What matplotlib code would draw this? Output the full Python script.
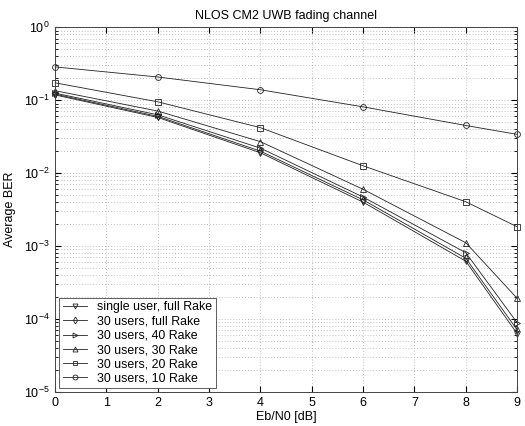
import matplotlib
matplotlib.use("Agg")
import matplotlib.pyplot as plt
import numpy as np

plt.rcParams['font.family'] = ['Liberation Sans', 'DejaVu Sans']

# Eb/N0 values (dB)
ebn0 = [0, 2, 4, 6, 8, 9]

# average BER
ber_single_full = [0.118, 0.058, 0.019, 0.0040, 0.00062, 0.000063]
ber_30_full = [0.121, 0.060, 0.020, 0.0043, 0.00068, 0.000071]
ber_30_40 = [0.125, 0.063, 0.022, 0.0047, 0.00081, 0.000089]
ber_30_30 = [0.135, 0.071, 0.027, 0.0060, 0.00111, 0.000192]
ber_30_20 = [0.173, 0.095, 0.042, 0.0126, 0.00405, 0.00184]
ber_30_10 = [0.286, 0.208, 0.139, 0.081, 0.045, 0.034]

labels = ["single user, full Rake", "30 users, full Rake", "30 users, 40 Rake",
          "30 users, 30 Rake", "30 users, 20 Rake", "30 users, 10 Rake"]
markers = ["v", "d", ">", "^", "s", "o"]
series = [ber_single_full, ber_30_full, ber_30_40, ber_30_30, ber_30_20, ber_30_10]

fig = plt.figure(figsize=(5.25, 4.26), dpi=100)
ax = fig.add_axes([0.105, 0.08, 0.88, 0.856])

for ber, m, lab in zip(series, markers, labels):
    ax.semilogy(ebn0, ber, color="#222222", lw=0.6, marker=m, ms=4.2,
                mfc="none", mec="#222222", mew=0.6, label=lab, clip_on=False)

ax.set_xlim(0, 9)
ax.set_ylim(1e-5, 1)
ax.set_xticks(range(10))
ax.grid(True, which="major", linestyle=(0, (1, 2.5)), color="#aaaaaa", lw=0.6)
ax.grid(True, which="minor", axis="y", linestyle=(0, (1, 2.5)), color="#aaaaaa", lw=0.6)
ax.tick_params(which="both", direction="in", top=True, right=True, labelsize=9)
ax.tick_params(which="major", length=4, pad=4)
ax.tick_params(which="minor", length=2)
for s in ax.spines.values():
    s.set_linewidth(0.7)
    s.set_color("#444444")

ax.set_xlabel("Eb/N0 [dB]", fontsize=9, labelpad=1)
ax.set_ylabel("Average BER", fontsize=9, labelpad=6)
ax.set_title("NLOS CM2 UWB fading channel", fontsize=9, pad=6)

leg = ax.legend(loc="lower left", fontsize=8.9, fancybox=False, framealpha=1,
                edgecolor="#444444", borderaxespad=0.3, handlelength=2.0,
                labelspacing=0.18, borderpad=0.3, handletextpad=0.8,
                markerscale=0.85)
leg.get_frame().set_linewidth(0.6)

fig.savefig("out.png", dpi=100)
